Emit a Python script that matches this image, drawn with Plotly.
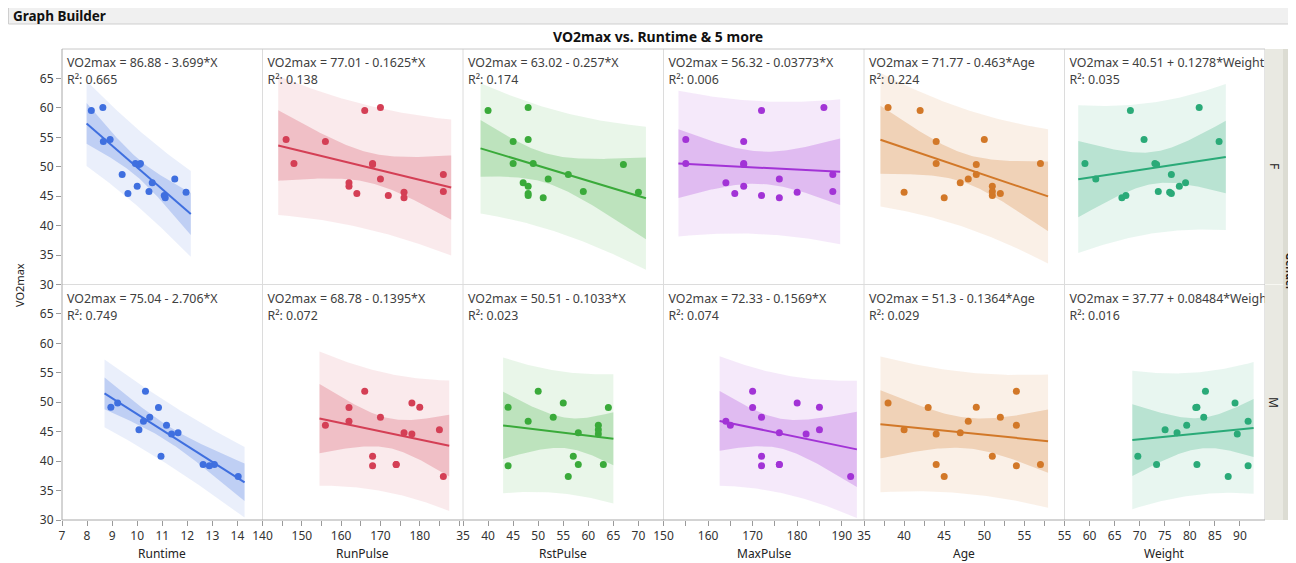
import numpy as np
import plotly.graph_objects as go
from plotly.subplots import make_subplots

# ---------------- data ----------------
VARS = ["Runtime", "RunPulse", "RstPulse", "MaxPulse", "Age", "Weight"]

F_vo2 = [54.297, 59.571, 45.681, 60.055, 50.541, 44.754, 47.273, 46.672, 50.388, 45.441, 54.625, 45.118, 45.790, 50.545, 48.673, 47.920]
F_runtime = [8.65, 8.17, 11.95, 8.63, 10.13, 11.12, 10.60, 10.00, 10.08, 9.63, 8.92, 11.08, 10.47, 9.93, 9.40, 11.50]
F_runpulse = [156, 166, 176, 170, 168, 176, 162, 162, 168, 164, 146, 172, 186, 148, 186, 170]
F_rstpulse = [45, 40, 70, 48, 45, 51, 47, 48, 67, 48, 48, 48, 59, 49, 56, 52]
F_maxpulse = [168, 172, 180, 186, 168, 176, 164, 168, 168, 166, 155, 172, 188, 155, 188, 176]
F_age = [44, 42, 40, 38, 44, 45, 47, 51, 49, 52, 50, 51, 51, 57, 49, 48]
F_weight = [85.84, 68.15, 75.98, 81.87, 73.03, 66.45, 79.15, 77.91, 73.37, 76.32, 70.87, 67.25, 73.71, 59.08, 76.32, 61.24]

M_vo2 = [44.609, 45.313, 49.156, 49.874, 44.811, 49.091, 39.442, 37.388, 51.855, 40.836, 46.774, 39.407, 46.080, 39.203, 47.467]
M_runtime = [11.37, 10.07, 8.95, 9.22, 11.63, 10.85, 13.08, 14.03, 10.33, 10.95, 10.25, 12.63, 11.17, 12.88, 10.50]
M_runpulse = [178, 185, 180, 178, 176, 162, 174, 186, 166, 168, 162, 174, 156, 168, 170]
M_rstpulse = [62, 62, 44, 55, 58, 64, 63, 56, 50, 57, 48, 58, 62, 44, 53]
M_maxpulse = [182, 185, 185, 180, 176, 170, 176, 192, 170, 172, 164, 176, 165, 172, 172]
M_age = [44, 40, 49, 38, 47, 43, 44, 45, 54, 51, 48, 57, 54, 54, 52]
M_weight = [89.47, 75.07, 81.42, 89.02, 77.45, 81.19, 81.42, 87.66, 83.12, 69.63, 91.63, 73.37, 79.38, 91.63, 82.78]

F_eq = ["VO2max = 86.88 - 3.699*X", "VO2max = 77.01 - 0.1625*X", "VO2max = 63.02 - 0.257*X",
        "VO2max = 56.32 - 0.03773*X", "VO2max = 71.77 - 0.463*Age", "VO2max = 40.51 + 0.1278*Weight"]
F_r2 = ["0.665", "0.138", "0.174", "0.006", "0.224", "0.035"]
M_eq = ["VO2max = 75.04 - 2.706*X", "VO2max = 68.78 - 0.1395*X", "VO2max = 50.51 - 0.1033*X",
        "VO2max = 72.33 - 0.1569*X", "VO2max = 51.3 - 0.1364*Age", "VO2max = 37.77 + 0.08484*Weight"]
M_r2 = ["0.749", "0.072", "0.023", "0.074", "0.029", "0.016"]

X_RANGES = [[7, 15], [140, 191], [35, 75], [150, 195], [35, 60], [55, 95]]
X_TICKS = [list(range(7, 15)), [140, 150, 160, 170, 180], [35, 40, 45, 50, 55, 60, 65, 70],
           [150, 160, 170, 180, 190], [35, 40, 45, 50, 55], [55, 60, 65, 70, 75, 80, 85, 90]]
X_MINOR = [None, 5, None, 5, 2.5, None]
Y_RANGE = [30, 70]
Y_TICKS = [30, 35, 40, 45, 50, 55, 60, 65]

COLORS = ["#3f6fdf", "#d43f55", "#3aaa3a", "#a233d6", "#d27828", "#2aaa78"]
T_CRIT = {16: 2.1448, 15: 2.1604}  # t(0.975, n-2)

F_X = [F_runtime, F_runpulse, F_rstpulse, F_maxpulse, F_age, F_weight]
M_X = [M_runtime, M_runpulse, M_rstpulse, M_maxpulse, M_age, M_weight]

FONT = "Segoe UI, Noto Sans, Open Sans, sans-serif"
TXT = "#404040"

# page offset of the figure (browser body margin)
OX, OY = 8, 8
W, H = 1296 - OX, 563 - OY
# plot-area edges in page pixels
L, R, T, B = 62, 1265, 49, 520


def px_x(p):
    return (p - L) / (R - L)


def px_y(p):
    return (B - p) / (B - T)


def rgba(hexc, a):
    h = hexc.lstrip("#")
    return "rgba(%d,%d,%d,%.3f)" % (int(h[0:2], 16), int(h[2:4], 16), int(h[4:6], 16), a)


fig = make_subplots(rows=2, cols=6, horizontal_spacing=0, vertical_spacing=0)

for row, (XS, Y, EQ, R2) in enumerate([(F_X, F_vo2, F_eq, F_r2), (M_X, M_vo2, M_eq, M_r2)], start=1):
    for c in range(6):
        col = c + 1
        x = np.array(XS[c], float)
        y = np.array(Y, float)
        n = len(x)
        b, a = np.polyfit(x, y, 1)
        resid = y - (a + b * x)
        s = np.sqrt(np.sum(resid ** 2) / (n - 2))
        xbar = x.mean()
        sxx = np.sum((x - xbar) ** 2)
        ext = 0.05 * (x.max() - x.min())
        xg = np.linspace(x.min() - ext, x.max() + ext, 80)
        yg = a + b * xg
        t = T_CRIT[n]
        se_fit = s * np.sqrt(1 / n + (xg - xbar) ** 2 / sxx)
        se_ind = s * np.sqrt(1 + 1 / n + (xg - xbar) ** 2 / sxx)
        color = COLORS[c]
        fig.add_trace(go.Scatter(x=np.concatenate([xg, xg[::-1]]),
                                 y=np.concatenate([yg + t * se_ind, (yg - t * se_ind)[::-1]]),
                                 fill="toself", fillcolor=rgba(color, 0.11), line=dict(width=0),
                                 mode="lines", hoverinfo="skip", showlegend=False), row=row, col=col)
        fig.add_trace(go.Scatter(x=np.concatenate([xg, xg[::-1]]),
                                 y=np.concatenate([yg + t * se_fit, (yg - t * se_fit)[::-1]]),
                                 fill="toself", fillcolor=rgba(color, 0.25), line=dict(width=0),
                                 mode="lines", hoverinfo="skip", showlegend=False), row=row, col=col)
        fig.add_trace(go.Scatter(x=xg, y=yg, mode="lines", line=dict(color=color, width=2),
                                 hoverinfo="skip", showlegend=False), row=row, col=col)
        fig.add_trace(go.Scatter(x=x, y=y, mode="markers", marker=dict(color=color, size=7),
                                 showlegend=False), row=row, col=col)
        xr = X_RANGES[c]
        xt = xr[0] + (xr[1] - xr[0]) * 5.0 / 200.5
        fig.add_trace(go.Scatter(x=[xt, xt], y=[67.45, 64.55], mode="text",
                                 text=[EQ[c], "R²: " + R2[c]], textposition="middle right",
                                 textfont=dict(family=FONT, size=12.4, color=TXT),
                                 cliponaxis=True, hoverinfo="skip", showlegend=False), row=row, col=col)

        xa = dict(range=X_RANGES[c], showgrid=False, zeroline=False, showline=False)
        if row == 2:
            xa.update(tickmode="array", tickvals=X_TICKS[c], ticks="outside", ticklen=5,
                      tickcolor="#9a9a9a", tickfont=dict(family=FONT, size=12, color="#333"))
            if X_MINOR[c]:
                xa["minor"] = dict(tick0=X_RANGES[c][0], dtick=X_MINOR[c], ticks="outside",
                                   ticklen=5, tickcolor="#9a9a9a")
        else:
            xa.update(showticklabels=False, ticks="")
        fig.update_xaxes(row=row, col=col, **xa)

        ya = dict(range=Y_RANGE, showgrid=False, zeroline=False, showline=False)
        if col == 1:
            ya.update(tickmode="array", tickvals=Y_TICKS, ticks="outside", ticklen=5,
                      tickcolor="#9a9a9a", tickfont=dict(family=FONT, size=12, color="#333"))
        else:
            ya.update(showticklabels=False, ticks="")
        fig.update_yaxes(row=row, col=col, **ya)

shapes = []
# title bar
shapes.append(dict(type="rect", xref="paper", yref="paper", x0=px_x(8.5), x1=px_x(1310),
                   y0=px_y(-5), y1=px_y(24), fillcolor="#f0f0f0", line=dict(color="#cfcfcf", width=1), layer="above"))
# panel separators
for c in range(1, 6):
    xp = L + c * (R - L) / 6
    shapes.append(dict(type="line", xref="paper", yref="paper", x0=px_x(xp), x1=px_x(xp), y0=0, y1=1,
                       line=dict(color="#dcdcdc", width=1), layer="above"))
shapes.append(dict(type="line", xref="paper", yref="paper", x0=0, x1=1, y0=0.5, y1=0.5,
                   line=dict(color="#dcdcdc", width=1), layer="above"))
# frame
shapes.append(dict(type="line", xref="paper", yref="paper", x0=0, x1=1, y0=1, y1=1,
                   line=dict(color="#c8c8c8", width=1), layer="above"))
shapes.append(dict(type="line", xref="paper", yref="paper", x0=1, x1=1, y0=0, y1=1,
                   line=dict(color="#c8c8c8", width=1), layer="above"))
shapes.append(dict(type="line", xref="paper", yref="paper", x0=0, x1=0, y0=0, y1=1,
                   line=dict(color="#a8a8a8", width=1), layer="above"))
shapes.append(dict(type="line", xref="paper", yref="paper", x0=0, x1=1, y0=0, y1=0,
                   line=dict(color="#a8a8a8", width=1), layer="above"))
# gender strips
shapes.append(dict(type="rect", xref="paper", yref="paper", x0=px_x(1265), x1=px_x(1283), y0=0, y1=1,
                   fillcolor="#e9e9e2", line=dict(width=0), layer="above"))
shapes.append(dict(type="rect", xref="paper", yref="paper", x0=px_x(1283), x1=px_x(1310), y0=0, y1=1,
                   fillcolor="#dcdcd3", line=dict(width=0), layer="above"))
shapes.append(dict(type="line", xref="paper", yref="paper", x0=px_x(1265), x1=px_x(1283), y0=0.5, y1=0.5,
                   line=dict(color="#f7f7f2", width=1), layer="above"))

ann = []
ann.append(dict(text="<b>Graph Builder</b>", xref="paper", yref="paper", x=px_x(11), y=px_y(16),
                xanchor="left", yanchor="middle", showarrow=False,
                font=dict(family=FONT, size=13.5, color="#111")))
ann.append(dict(text="<b>VO2max vs. Runtime &amp; 5 more</b>", xref="paper", yref="paper",
                x=px_x(658), y=px_y(36), xanchor="center", yanchor="middle", showarrow=False,
                font=dict(family=FONT, size=14, color="#111")))
ann.append(dict(text="VO2max", xref="paper", yref="paper", x=px_x(19), y=px_y(285), textangle=-90,
                xanchor="center", yanchor="middle", showarrow=False,
                font=dict(family=FONT, size=11, color="#222")))
for c, v in enumerate(VARS):
    xc = L + (c + 0.5) * (R - L) / 6
    ann.append(dict(text=v, xref="paper", yref="paper", x=px_x(xc), y=px_y(553),
                    xanchor="center", yanchor="middle", showarrow=False,
                    font=dict(family=FONT, size=12, color="#222")))
for lab, yp in [("F", 166), ("M", 402)]:
    ann.append(dict(text=lab, xref="paper", yref="paper", x=px_x(1274), y=px_y(yp), textangle=90,
                    xanchor="center", yanchor="middle", showarrow=False,
                    font=dict(family=FONT, size=12, color="#222")))
ann.append(dict(text="<b>Gender</b>", xref="paper", yref="paper", x=px_x(1289.5), y=px_y(272), textangle=90,
                xanchor="center", yanchor="middle", showarrow=False,
                font=dict(family=FONT, size=10.5, color="#222")))

fig.update_layout(width=W, height=H,
                  margin=dict(l=L - OX, r=(W + OX) - R, t=T - OY, b=(H + OY) - B),
                  paper_bgcolor="white", plot_bgcolor="rgba(0,0,0,0)",
                  shapes=shapes, annotations=ann, showlegend=False,
                  font=dict(family=FONT, size=12, color="#333"))

fig.write_html("out.html")
